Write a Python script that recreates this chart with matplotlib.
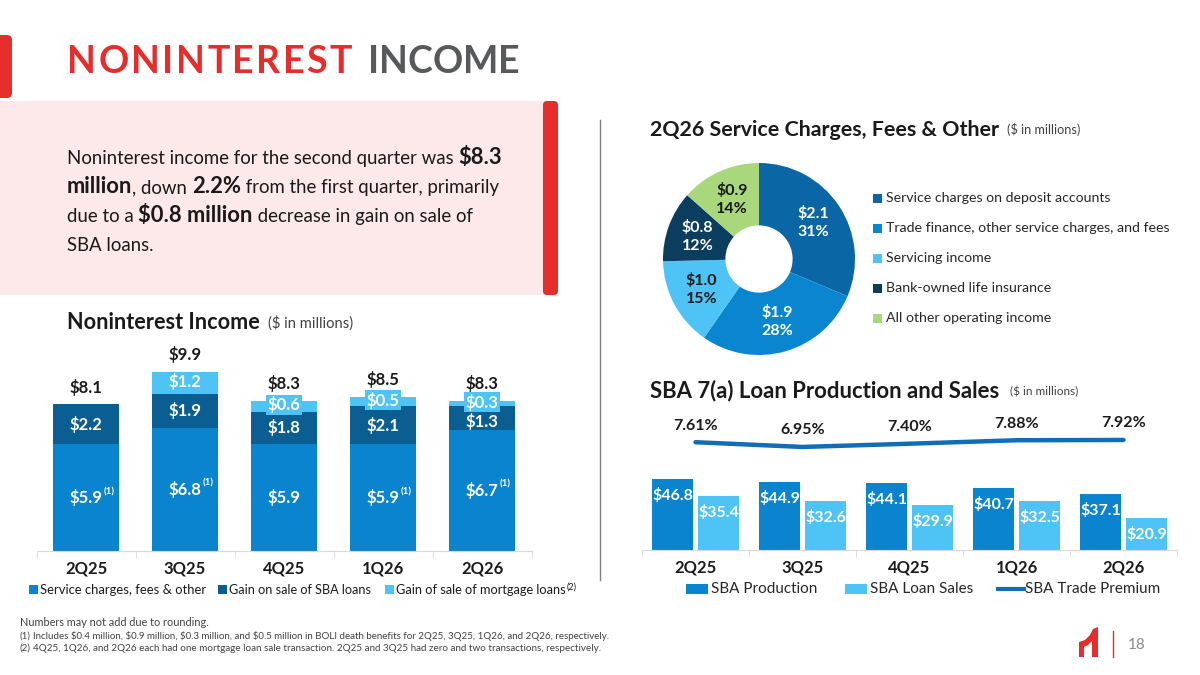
import matplotlib
matplotlib.use("Agg")
import matplotlib.pyplot as plt
from matplotlib.patches import Rectangle, FancyBboxPatch, Polygon
import numpy as np

plt.rcParams['font.family'] = ['Lato', 'DejaVu Sans']
plt.rcParams['text.parse_math'] = False

# ---- data ----
quarters = ['2Q25', '3Q25', '4Q25', '1Q26', '2Q26']
svc_fees = [5.9, 6.8, 5.9, 5.9, 6.7]
sba_gain = [2.2, 1.9, 1.8, 2.1, 1.3]
mortgage_gain = [0.0, 1.2, 0.6, 0.5, 0.3]
totals = [8.1, 9.9, 8.3, 8.5, 8.3]
svc_note = [True, True, False, True, True]
series_names = ['Service charges, fees & other', 'Gain on sale of SBA loans', 'Gain of sale of mortgage loans']

donut_names = ['Service charges on deposit accounts', 'Trade finance, other service charges, and fees',
               'Servicing income', 'Bank-owned life insurance', 'All other operating income']
donut_values = [2.1, 1.9, 1.0, 0.8, 0.9]
donut_pct = ['31%', '28%', '15%', '12%', '14%']

sba_production = [46.8, 44.9, 44.1, 40.7, 37.1]
sba_sales = [35.4, 32.6, 29.9, 32.5, 20.9]
trade_premium = [7.61, 6.95, 7.40, 7.88, 7.92]

footnotes = ['Numbers may not add due to rounding.',
             'Includes $0.4 million, $0.9 million, $0.3 million, and $0.5 million in BOLI death benefits for 2Q25, 3Q25, 1Q26, and 2Q26, respectively.',
             '4Q25, 1Q26, and 2Q26 each had one mortgage loan sale transaction. 2Q25 and 3Q25 had zero and two transactions, respectively.']

# ---- colours ----
RED = '#E52E2B'
GREY = '#58595B'
PINK = '#FDE9E9'
MID = '#0A84CF'
DARK = '#0B5E91'
LIGHT = '#4EC3F5'
TXT = '#1A1A1A'
donut_colors = ['#0B66A5', '#0A86D0', '#4EC3F5', '#0B3D5F', '#A9D77C']
donut_txt = ['white', 'white', TXT, 'white', TXT]
LINE = '#116DB5'

W, H = 1200, 675
fig = plt.figure(figsize=(12, 6.75), dpi=100)
bg = fig.add_axes([0, 0, 1, 1], zorder=0)
bg.set_xlim(0, W)
bg.set_ylim(H, 0)
bg.axis('off')
renderer = fig.canvas.get_renderer()


def text_w(s, **kw):
    a = bg.text(0, 0, s + '|', **kw)
    b = bg.text(0, 0, '|', **kw)
    w = a.get_window_extent(renderer).width - b.get_window_extent(renderer).width
    a.remove()
    b.remove()
    return w


def runs(x, y, parts, fit=None, **common):
    parts = [(s, {**common, **kw}) for s, kw in parts]
    if fit:
        k = fit / sum(text_w(s, **kw) for s, kw in parts)
        parts = [(s, {**kw, 'fontsize': kw['fontsize'] * k}) for s, kw in parts]
    arts = []
    for s, kw in parts:
        arts.append(bg.text(x, y, s, va='baseline', **kw))
        x += text_w(s, **kw)
    return arts


def spaced(x0, x1, y, s, **kw):
    ws = [text_w(c, **kw) for c in s]
    gap = (x1 - x0 - sum(ws)) / (len(s) - 1)
    x = x0
    for c, w in zip(s, ws):
        bg.text(x, y, c, va='baseline', **kw)
        x += w + gap


# ---- decorations ----
bg.add_patch(FancyBboxPatch((-10, 35), 22, 63, boxstyle='round,pad=0,rounding_size=5', fc=RED, ec='none'))
bg.add_patch(Rectangle((0, 101), 548, 194, fc=PINK, ec='none'))
bg.add_patch(FancyBboxPatch((543, 101), 15, 194, boxstyle='round,pad=0,rounding_size=4', fc=RED, ec='none'))
bg.plot([600, 600], [120, 580], color='#7F7F7F', lw=1)

spaced(67, 352, 73, 'NONINTEREST', fontsize=27, weight='bold', color=RED)
spaced(368, 520, 73, 'INCOME', fontsize=27, weight='bold', color=GREY)

# ---- summary box text ----
N, B = dict(fontsize=14), dict(fontsize=16.5, weight='bold')
box_lines = [
    [('Noninterest income for the second quarter was ', N), ('$8.3', B)],
    [('million', B), (', down ', N), ('2.2%', B), (' from the first quarter, primarily', N)],
    [('due to a ', N), ('$0.8 million', B), (' decrease in gain on sale of', N)],
    [('SBA loans.', N)],
]
k = 438 / sum(text_w(s, **kw) for s, kw in box_lines[0])
for j, line in enumerate(box_lines):
    runs(67, 164 + 29 * j, [(s, {**kw, 'fontsize': kw['fontsize'] * k}) for s, kw in line], color=TXT)

# ---- section headers ----
HB = dict(fontsize=15, weight='bold', color=TXT)
HS = dict(fontsize=7.5, color='#404040')
runs(67, 329, [('Noninterest Income', HB)], fit=193)
runs(268, 328, [('($ in millions)', HS)], fit=84)
runs(650, 136, [('2Q26 Service Charges, Fees & Other', HB)], fit=350)
runs(1007, 134, [('($ in millions)', HS)], fit=72)
runs(650, 397, [('SBA 7(a) Loan Production and Sales', HB)], fit=350)
runs(1010, 395, [('($ in millions)', HS)], fit=67)

# ---- noninterest income stacked bars ----
ax1 = fig.add_axes([36.5 / W, 1 - 551 / H, 495 / W, 211 / H], zorder=2)
ax1.patch.set_alpha(0)
x = np.arange(len(quarters))
svc = np.array(svc_fees)
sba = np.array(sba_gain)
mtg = np.array(mortgage_gain)
bw = 0.67
b1 = ax1.bar(x, svc, bw, color=MID, label=series_names[0])
b2 = ax1.bar(x, sba, bw, bottom=svc, color=DARK, label=series_names[1])
b3 = ax1.bar(x, mtg, bw, bottom=svc + sba, color=LIGHT, label=series_names[2])
LBL = dict(fontsize=12, weight='bold', color='white', ha='center', va='center', textcoords='offset points')
for i in x:
    t = ax1.annotate(f'${svc[i]:.1f}', xy=(i, svc[i] / 2), xytext=(0, 0), **LBL)
    if svc_note[i]:
        ax1.annotate('(1)', xy=(1, 1), xycoords=t, xytext=(0.5, 1.5), textcoords='offset points',
                     ha='left', va='top', fontsize=7, color='white', weight='bold')
    # nudge labels apart where the top two segments are thin
    dy = -2.5 if sba[i] < 1.5 else 0
    ax1.annotate(f'${sba[i]:.1f}', xy=(i, svc[i] + sba[i] / 2), xytext=(0, dy), **LBL)
    if mtg[i] > 0:
        box = None
        if mtg[i] < 0.9:
            box = dict(boxstyle='square,pad=0.1', fc=LIGHT, ec='none')
        ax1.annotate(f'${mtg[i]:.1f}', xy=(i, svc[i] + sba[i] + mtg[i] / 2), xytext=(0, 1),
                     bbox=box, **LBL)
    ax1.annotate(f'${totals[i]:.1f}', xy=(i, totals[i]), xytext=(0, 12.5), textcoords='offset points',
                 ha='center', va='center', fontsize=12, weight='bold', color=TXT)
ax1.set_xlim(-0.5, 4.5)
ax1.set_ylim(0, 11.66)
ax1.set_xticks(x, quarters, fontsize=12, weight='bold', color=TXT)
ax1.set_xticks(np.arange(-0.5, 5), minor=True)
ax1.tick_params(axis='x', which='major', length=0, pad=7)
ax1.tick_params(axis='x', which='minor', length=5, color='#D9D9D9')
ax1.set_yticks([])
for sp in ['top', 'left', 'right']:
    ax1.spines[sp].set_visible(False)
ax1.spines['bottom'].set_color('#D9D9D9')

leg_x = [29, 218, 385]
leg_w = [167, 142, 171]
for lx, lw_, name, col in zip(leg_x, leg_w, series_names, [MID, DARK, LIGHT]):
    bg.add_patch(Rectangle((lx, 585), 9, 9, fc=col, ec='none'))
    arts = runs(lx + 11, 594, [(name, dict(fontsize=10.5))], fit=lw_, color=TXT)
bg.annotate('(2)', xy=(1, 1), xycoords=arts[0], xytext=(0.5, 1), textcoords='offset points',
            ha='left', va='top', fontsize=6.5, color=TXT)

# ---- donut ----
cx, cy, r = 759, 259, 96
ax2 = fig.add_axes([(cx - r) / W, 1 - (cy + r) / H, 2 * r / W, 2 * r / H], zorder=2)
ax2.pie(donut_values, colors=donut_colors, startangle=90, counterclock=False,
        wedgeprops=dict(width=0.65, linewidth=0))
ax2.set_xlim(-1, 1)
ax2.set_ylim(-1, 1)
cum = np.cumsum([0] + donut_values)
tot = cum[-1]
for i, v in enumerate(donut_values):
    ang = np.deg2rad(90 - 360 * (cum[i] + v / 2) / tot)
    ax2.text(0.68 * np.cos(ang), 0.68 * np.sin(ang), f'${v:.1f}\n{donut_pct[i]}', ha='center', va='center',
             fontsize=11.5, weight='bold', color=donut_txt[i], linespacing=1.35)

dk = 284 / text_w(donut_names[1], fontsize=11)
for i, (name, col) in enumerate(zip(donut_names, donut_colors)):
    yy = 198 + 30 * i
    bg.add_patch(Rectangle((873, yy - 4.5), 9, 9, fc=col, ec='none'))
    bg.text(886, yy, name, va='center', fontsize=11 * dk, color='#262626')

# ---- SBA production and sales ----
ax3 = fig.add_axes([642 / W, 1 - 550 / H, 535 / W, 150 / H], zorder=2)
ax3.patch.set_alpha(0)
sw = 0.385
p1 = ax3.bar(x - 0.215, sba_production, sw, color=MID)
p2 = ax3.bar(x + 0.215, sba_sales, sw, color=LIGHT)
SL = dict(textcoords='offset points', ha='center', va='center', fontsize=11.5, weight='bold', color='white')
for i in x:
    ax3.annotate(f'${sba_production[i]:.1f}', xy=(i - 0.215, sba_production[i]), xytext=(0, -12), **SL)
    ax3.annotate(f'${sba_sales[i]:.1f}', xy=(i + 0.215, sba_sales[i]), xytext=(0, -12), **SL)
ax3.set_xlim(-0.5, 4.5)
ax3.set_ylim(0, 98.9)
ax3.set_xticks(x, quarters, fontsize=12, weight='bold', color=TXT)
ax3.set_xticks(np.arange(-0.5, 5), minor=True)
ax3.tick_params(axis='x', which='major', length=0, pad=7)
ax3.tick_params(axis='x', which='minor', length=5, color='#D9D9D9')
ax3.set_yticks([])
for sp in ['top', 'left', 'right']:
    ax3.spines[sp].set_visible(False)
ax3.spines['bottom'].set_color('#D9D9D9')

ax4 = ax3.twinx()
ax4.plot(x, trade_premium, color=LINE, lw=3.2, solid_capstyle='round')
for i in x:
    ax4.annotate(f'{trade_premium[i]:.2f}%', xy=(i, trade_premium[i]), xytext=(0, 12), textcoords='offset points',
                 ha='center', va='center', fontsize=11.5, weight='bold', color=TXT)
ax4.set_ylim(-7.36, 13.47)
ax4.set_yticks([])
for sp in ax4.spines.values():
    sp.set_visible(False)

bg.add_patch(Rectangle((686, 584), 22, 10, fc=MID, ec='none'))
bg.text(711, 589, 'SBA Production', va='center', fontsize=11, color='#262626')
bg.add_patch(Rectangle((845, 584), 22, 10, fc=LIGHT, ec='none'))
bg.text(870, 589, 'SBA Loan Sales', va='center', fontsize=11, color='#262626')
bg.plot([998, 1024], [589, 589], color=LINE, lw=3)
bg.text(1025, 589, 'SBA Trade Premium', va='center', fontsize=11, color='#262626')

# ---- footnotes ----
FN = dict(fontsize=7, color='#404040')
runs(20, 626, [(footnotes[0], FN)], fit=187)
bg.text(20, 639, '(1)', va='baseline', **FN)
runs(33, 639, [(footnotes[1], FN)], fit=582)
bg.text(20, 651, '(2)', va='baseline', **FN)
runs(33, 651, [(footnotes[2], FN)], fit=567)

# ---- logo and page number ----
bg.add_patch(Polygon([(1079, 657), (1079, 642), (1085, 640), (1090, 635), (1093, 629), (1098, 627),
                      (1098, 657), (1092, 657), (1092, 641), (1088, 645), (1084, 647), (1084, 657)],
                     closed=True, fc=RED, ec='none'))
bg.plot([1113, 1113], [631, 657], color=RED, lw=1)
bg.text(1137, 645, '18', ha='center', va='center', fontsize=11, color='#8C8C8C')

fig.savefig('out.png', dpi=100)
